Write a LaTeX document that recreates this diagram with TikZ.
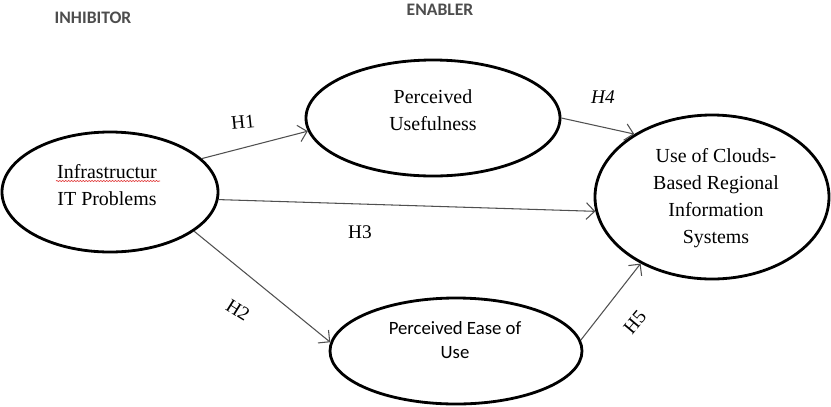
\documentclass[tikz,border=0pt]{standalone}
\usepackage{fontspec}
\setmainfont{Liberation Serif}
\newfontfamily\calibrifont{Carlito}
\usepackage{tikz}
\usetikzlibrary{arrows.meta,positioning,shapes.geometric,decorations.pathmorphing}
\definecolor{ovalBorder}{HTML}{000000}
\definecolor{arrowGray}{HTML}{505050}
\definecolor{headGray}{HTML}{4D4D4D}
\definecolor{spellRed}{HTML}{E03030}

\begin{document}
\begin{tikzpicture}[
        x=0.03cm, y=-0.03cm,
        oval/.style={
            draw=ovalBorder,
            ellipse,
            line width=2.4pt,
            inner sep=0pt
        },
        ovaltext/.style={
            align=center,
            font=\fontsize{17}{23}\selectfont
        },
        arrow/.style={
            -{Straight Barb[length=2.5mm,width=5mm]},
            line width=0.9pt,
            draw=arrowGray
        },
        hyp/.style={font=\fontsize{16.5}{20}\selectfont},
        heading/.style={
            font=\calibrifont\bfseries\fontsize{15}{18}\selectfont,
            text=headGray
        }
    ]

    \fill[white] (0,0) rectangle (831,406);
    \useasboundingbox (0,0) rectangle (831,406);

    \node[heading] (inhibitor) at (93,18) {INHIBITOR};
    \node[heading] (enabler) at (440,10) {ENABLER};

    % constructs
    \node[oval, minimum width=6.48cm, minimum height=3.6cm] (infra) at (110,192) {};
    \node[oval, minimum width=7.62cm, minimum height=3.48cm] (useful) at (433,118) {};
    \node[oval, minimum width=7.02cm, minimum height=4.92cm] (cloud) at (712,197) {};
    \node[oval, minimum width=7.56cm, minimum height=3.18cm] (ease) at (456,351) {};

    \node[ovaltext] (infraText) at (107,185) {Infrastructur\\IT Problems};
    \node[ovaltext] (usefulText) at (433,110) {Perceived\\Usefulness};
    \node[ovaltext] (cloudText) at (716,198)
        {Use of Clouds-\\Based Regional\\Information\\Systems};
    \node[ovaltext, font=\calibrifont\fontsize{16}{21}\selectfont] (easeText) at (455,340)
        {Perceived Ease of\\Use};

    \draw[spellRed, line width=0.5pt, decorate,
        decoration={snake, amplitude=0.5pt, segment length=2.5pt}] (56,181) -- (160,181);

    % hypotheses
    \draw[arrow] (infra.20) -- (useful.186);
    \draw[arrow] (infra.-4) -- (cloud.187);
    \draw[arrow] (infra.-25) -- (ease.176);
    \draw[arrow] (useful.0) -- (cloud.141);
    \draw[arrow] (ease.5) -- (cloud.223);

    \node[hyp, rotate=6] (h1) at (243,122) {H1};
    \node[hyp, rotate=-32] (h2) at (238,310) {H2};
    \node[hyp] (h3) at (360,232) {H3};
    \node[hyp, font=\itshape\fontsize{16.5}{20}\selectfont] (h4) at (603,97) {H4};
    \node[hyp, rotate=50] (h5) at (635,322) {H5};

\end{tikzpicture}
\end{document}
